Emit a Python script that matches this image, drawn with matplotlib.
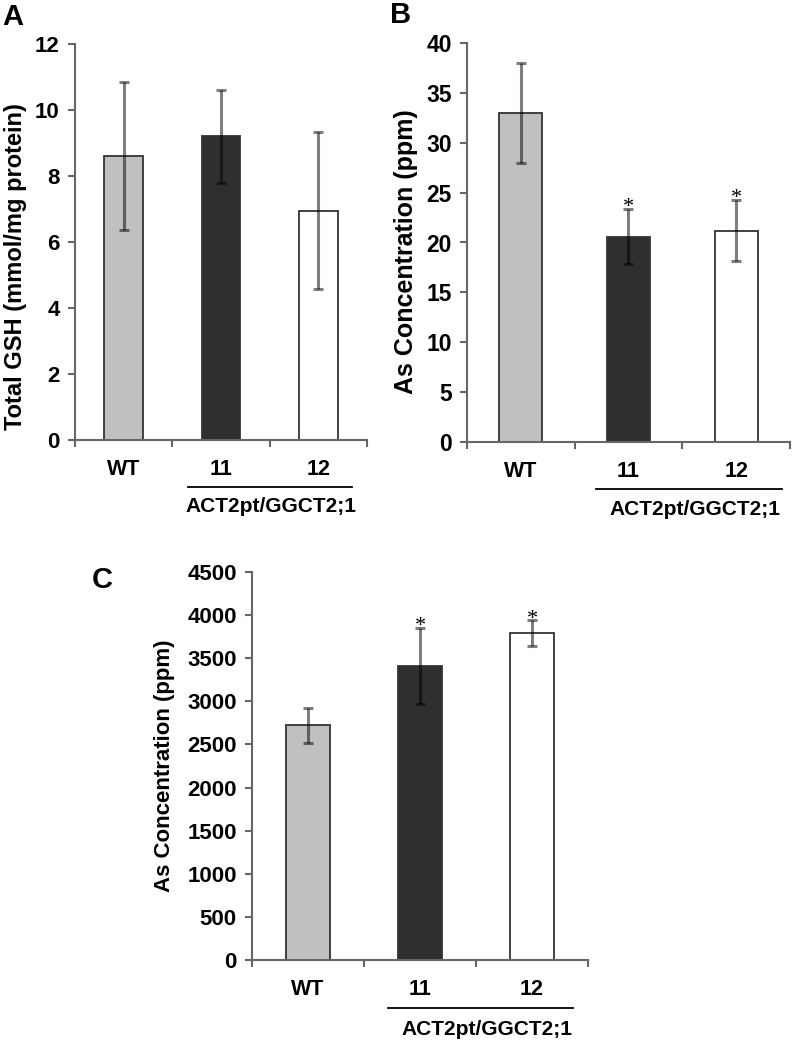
import numpy as np
import matplotlib
matplotlib.use('Agg')
import matplotlib.pyplot as plt

plt.rcParams['font.family'] = ['Liberation Sans', 'DejaVu Sans']
plt.rcParams['font.weight'] = 'bold'

# data
groups = ['WT', '11', '12']
bar_colors = ['#c0c0c0', '#2f2f2f', '#ffffff']
group_label = 'ACT2pt/GGCT2;1'

gsh_mean = [8.6, 9.2, 6.95]
gsh_err = [2.25, 1.4, 2.37]

as_shoot_mean = [33.0, 20.6, 21.2]
as_shoot_err = [5.0, 2.8, 3.1]
as_shoot_sig = ['', '*', '*']

as_root_mean = [2720, 3410, 3790]
as_root_err = [205, 440, 150]
as_root_sig = ['', '*', '*']

W, H = 793, 1044
fig = plt.figure(figsize=(W / 100, H / 100), dpi=100)


def px_axes(left, top, right, bottom):
    return fig.add_axes([left / W, 1 - bottom / H, (right - left) / W, (bottom - top) / H])


def draw_panel(ax, means, errs, ylim, yticks, ylabel, sig=None, label_size=16,
               tick_size=16, line=(0.68, 2.37, -0.12), text=(1.5, -0.17)):
    x = np.arange(len(groups))
    ax.bar(x, means, width=0.4, color=bar_colors, edgecolor='#333333', linewidth=1.3, zorder=2)
    ax.errorbar(x, means, yerr=errs, fmt='none', ecolor='black', alpha=0.5,
                elinewidth=2.2, capsize=3.6, capthick=2.2, zorder=3)
    if sig:
        for xi, m, e, s in zip(x, means, errs, sig):
            if s:
                ax.annotate(s, (xi, m + e), xytext=(0, -6), textcoords='offset points',
                            ha='center', va='bottom', fontsize=16, fontweight='normal',
                            family='Liberation Serif')
    ax.set_xlim(-0.5, 2.5)
    ax.set_ylim(*ylim)
    ax.set_yticks(yticks)
    ax.set_xticks([-0.5, 0.5, 1.5, 2.5])
    ax.set_xticklabels([])
    ax.set_xticks(x, minor=True)
    ax.set_xticklabels(groups, minor=True)
    ax.tick_params(axis='x', which='minor', length=0, pad=14, labelsize=15.5)
    ax.tick_params(axis='x', which='major', length=5, width=1.5, color='#666666', direction='out')
    ax.tick_params(axis='y', length=5, width=1.5, color='#666666', direction='out',
                   labelsize=tick_size, pad=6)
    for s in ['top', 'right']:
        ax.spines[s].set_visible(False)
    for s in ['left', 'bottom']:
        ax.spines[s].set_color('#666666')
        ax.spines[s].set_linewidth(1.5)
    ax.set_ylabel(ylabel, fontsize=label_size, fontweight='bold')
    tr = ax.get_xaxis_transform()
    ax.plot([line[0], line[1]], [line[2], line[2]], color='black', lw=1.3,
            transform=tr, clip_on=False)
    ax.text(text[0], text[1], group_label, transform=tr, ha='center', va='center',
            fontsize=15, fontweight='bold')


axA = px_axes(75, 44, 367, 440)
draw_panel(axA, gsh_mean, gsh_err, (0, 12), np.arange(0, 13, 2),
           'Total GSH (mmol/mg protein)', label_size=17,
           line=(0.66, 2.35, -0.119), text=(1.51, -0.169))
axA.yaxis.set_label_coords(-0.165, 0.437)

axB = px_axes(467, 43, 790, 442)
draw_panel(axB, as_shoot_mean, as_shoot_err, (0, 40), np.arange(0, 41, 5),
           'As Concentration (ppm)', sig=as_shoot_sig, label_size=18, tick_size=16.5,
           line=(0.70, 2.43, -0.118), text=(1.62, -0.17))
axB.yaxis.set_label_coords(-0.152, 0.477)

axC = px_axes(252, 572, 588, 960)
draw_panel(axC, as_root_mean, as_root_err, (0, 4500), np.arange(0, 4501, 500),
           'As Concentration (ppm)', sig=as_root_sig, label_size=16,
           line=(0.71, 2.37, -0.124), text=(1.6, -0.178))
axC.yaxis.set_label_coords(-0.229, 0.5)

fig.text(2 / W, 1 - 3 / H, 'A', fontsize=21, fontweight='bold', va='top', ha='left')
fig.text(390 / W, 1 - 1 / H, 'B', fontsize=21, fontweight='bold', va='top', ha='left')
fig.text(92 / W, 1 - 566 / H, 'C', fontsize=21, fontweight='bold', va='top', ha='left')

fig.savefig('out.png', dpi=100)
